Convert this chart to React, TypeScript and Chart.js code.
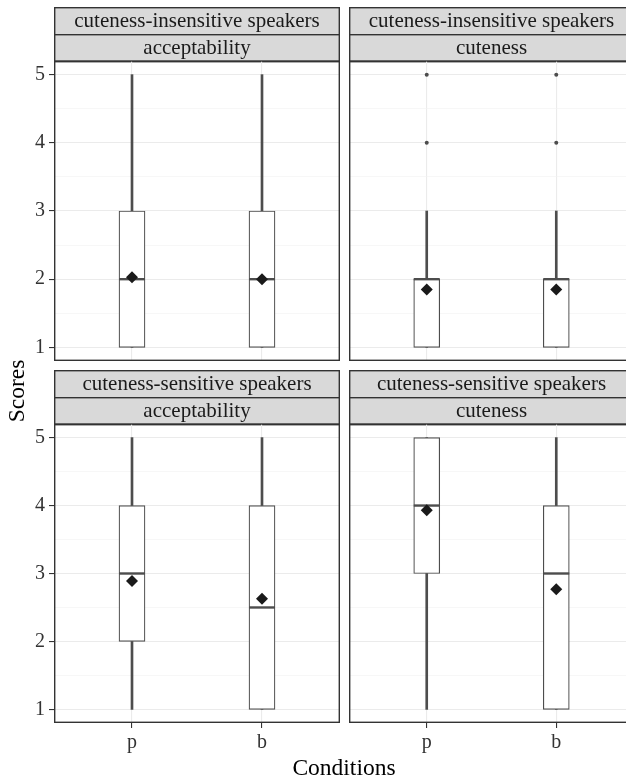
import React, { useEffect, useRef } from "react";
import { Chart, registerables } from "chart.js";

Chart.register(...registerables);

// ---- data ----
const conditions = ["p", "b"];
const conditionX = [1, 2];
const speakerGroups = ["cuteness-insensitive speakers", "cuteness-sensitive speakers"];
const measures = ["acceptability", "cuteness"];
const yTickValues = [1, 1.5, 2, 2.5, 3, 3.5, 4, 4.5, 5];

// panels: [insensitive/acceptability, insensitive/cuteness, sensitive/acceptability, sensitive/cuteness]
// each inner array is [p, b]
const whiskerMin = [[1, 1], [1, 1], [1, 1], [1, 1]];
const lowerQuartile = [[1, 1], [1, 1], [2, 1], [3, 1]];
const medians = [[2, 2], [2, 2], [3, 2.5], [4, 3]];
const upperQuartile = [[3, 3], [2, 2], [4, 4], [5, 4]];
const whiskerMax = [[5, 5], [3, 3], [5, 5], [5, 5]];
const means = [[2.03, 2.0], [1.85, 1.85], [2.89, 2.63], [3.93, 2.77]];
const outliers = [[[], []], [[4, 5], [4, 5]], [[], []], [[], []]];

const FONT = "'Liberation Serif', 'Times New Roman', serif";
const DARK = "#333333";
const BOXLINE = "#4D4D4D";

type PanelProps = {
  idx: number;
  left: number;
  top: number;
  width: number;
  height: number;
  showY: boolean;
  showX: boolean;
};

function Panel({ idx, left, top, width, height, showY, showX }: PanelProps) {
  const ref = useRef<HTMLCanvasElement>(null);
  useEffect(() => {
    const canvas = ref.current;
    if (!canvas) return;
    const group = speakerGroups[idx < 2 ? 0 : 1];
    const measure = measures[idx % 2];
    const pts = (arr: number[]) => arr.map((v, i) => ({ x: conditionX[i], y: v }));
    const outlierPts: { x: number; y: number }[] = [];
    outliers[idx].forEach((vals, i) => vals.forEach((v) => outlierPts.push({ x: conditionX[i], y: v })));

    const xAxisHeight = showX ? height - 360 : 0;

    const stripPlugin = {
      id: "strips",
      beforeDraw(chart: any) {
        const { ctx, chartArea } = chart;
        const h = 27;
        const rows = [group, measure];
        ctx.save();
        rows.forEach((txt, i) => {
          const y = chartArea.top - 2 * h + i * h;
          ctx.fillStyle = "#D9D9D9";
          ctx.fillRect(chartArea.left, y, chartArea.right - chartArea.left, h);
          ctx.strokeStyle = DARK;
          ctx.lineWidth = 1.4;
          ctx.strokeRect(chartArea.left + 0.7, y + 0.7, chartArea.right - chartArea.left - 1.4, h);
          ctx.fillStyle = "#1A1A1A";
          ctx.font = `21px ${FONT}`;
          ctx.textAlign = "center";
          ctx.textBaseline = "middle";
          ctx.fillText(txt, (chartArea.left + chartArea.right) / 2, y + h / 2 + 1);
        });
        ctx.restore();
      },
      afterDraw(chart: any) {
        const { ctx, chartArea } = chart;
        ctx.save();
        ctx.strokeStyle = DARK;
        ctx.lineWidth = 1.4;
        ctx.strokeRect(
          chartArea.left + 0.7,
          chartArea.top,
          chartArea.right - chartArea.left - 1.4,
          chartArea.bottom - chartArea.top - 0.7
        );
        ctx.restore();
      },
    };

    const chart = new Chart(canvas, {
      type: "bar",
      data: {
        datasets: [
          {
            type: "line",
            label: "mean",
            data: pts(means[idx]),
            showLine: false,
            pointStyle: "rectRot",
            pointRadius: 6,
            pointBorderWidth: 0,
            pointBackgroundColor: "#1A1A1A",
            pointBorderColor: "#1A1A1A",
            order: 0,
          } as any,
          {
            type: "line",
            label: "median",
            data: pts(medians[idx]),
            showLine: false,
            pointStyle: "line",
            pointRadius: 13,
            pointBorderWidth: 2.4,
            pointBorderColor: BOXLINE,
            order: 1,
          } as any,
          {
            type: "line",
            label: "outliers",
            data: outlierPts,
            showLine: false,
            pointStyle: "circle",
            pointRadius: 2,
            pointBorderWidth: 0,
            pointBackgroundColor: BOXLINE,
            order: 1,
          } as any,
          {
            label: "box",
            data: conditionX.map((x, i) => ({ x, y: [lowerQuartile[idx][i], upperQuartile[idx][i]] })),
            backgroundColor: "#FFFFFF",
            borderColor: BOXLINE,
            borderWidth: 1.2,
            borderSkipped: false,
            barThickness: 26,
            grouped: false,
            order: 2,
          } as any,
          {
            label: "upper whisker",
            data: conditionX.map((x, i) => ({ x, y: [upperQuartile[idx][i], whiskerMax[idx][i]] })),
            backgroundColor: BOXLINE,
            borderWidth: 0,
            barThickness: 2,
            grouped: false,
            order: 3,
          } as any,
          {
            label: "lower whisker",
            data: conditionX.map((x, i) => ({ x, y: [whiskerMin[idx][i], lowerQuartile[idx][i]] })),
            backgroundColor: BOXLINE,
            borderWidth: 0,
            barThickness: 2,
            grouped: false,
            order: 3,
          } as any,
        ],
      },
      options: {
        responsive: false,
        animation: false,
        events: [],
        layout: { autoPadding: false, padding: { top: 61, left: 0, right: 0, bottom: 0 } },
        plugins: { legend: { display: false }, tooltip: { enabled: false }, title: { display: false } },
        scales: {
          x: {
            type: "linear",
            min: 0.4,
            max: 2.6,
            offset: false,
            afterBuildTicks: (scale: any) => {
              scale.ticks = conditionX.map((v) => ({ value: v }));
            },
            afterFit: (scale: any) => {
              scale.height = xAxisHeight;
              scale.paddingLeft = 0;
              scale.paddingRight = 0;
            },
            border: { display: false },
            grid: {
              offset: false,
              color: "#EBEBEB",
              lineWidth: 1.1,
              drawTicks: showX,
              tickLength: 5,
              tickColor: DARK,
              tickWidth: 1.1,
            },
            ticks: {
              display: showX,
              autoSkip: false,
              maxRotation: 0,
              padding: 3,
              color: "#333333",
              font: { family: FONT, size: 20 },
              callback: (v: any) => conditions[conditionX.indexOf(Number(v))] ?? "",
            },
          },
          y: {
            type: "linear",
            min: 0.8,
            max: 5.2,
            afterBuildTicks: (scale: any) => {
              scale.ticks = yTickValues.map((v) => ({ value: v }));
            },
            afterFit: (scale: any) => {
              scale.width = showY ? 54 : 0;
              scale.paddingTop = 0;
              scale.paddingBottom = 0;
            },
            border: { display: false },
            grid: {
              color: (c: any) => (Number.isInteger(c.tick?.value) ? "#EBEBEB" : "#F2F2F2"),
              lineWidth: (c: any) => (Number.isInteger(c.tick?.value) ? 1.1 : 0.6),
              drawTicks: showY,
              tickLength: 5,
              tickColor: (c: any) => (Number.isInteger(c.tick?.value) ? DARK : "rgba(0,0,0,0)"),
              tickWidth: 1.1,
            },
            ticks: {
              display: showY,
              autoSkip: false,
              padding: 4,
              color: "#333333",
              font: { family: FONT, size: 20 },
              callback: (v: any) => (Number.isInteger(Number(v)) ? String(v) : ""),
            },
          },
        },
      } as any,
      plugins: [stripPlugin],
    });
    return () => chart.destroy();
  }, [idx, width, height, showX, showY]);
  return (
    <canvas
      ref={ref}
      width={width}
      height={height}
      style={{ position: "absolute", left, top, width, height, display: "block" }}
    />
  );
}

export default function App() {
  return (
    <div
      style={{
        position: "fixed",
        left: 0,
        top: 0,
        width: 626,
        height: 779,
        overflow: "hidden",
        background: "#FFFFFF",
        fontFamily: FONT,
      }}
    >
      <Panel idx={0} left={0} top={0} width={340} height={361} showY={true} showX={false} />
      <Panel idx={1} left={349} top={0} width={285} height={361} showY={false} showX={false} />
      <Panel idx={2} left={0} top={363} width={340} height={416} showY={true} showX={true} />
      <Panel idx={3} left={349} top={363} width={285} height={416} showY={false} showX={true} />
      <div
        style={{
          position: "absolute",
          left: 15.5 - 100,
          top: 391 - 13,
          width: 200,
          height: 26,
          lineHeight: "26px",
          fontSize: 23.5,
          textAlign: "center",
          color: "#000000",
          transform: "rotate(-90deg)",
          whiteSpace: "nowrap",
        }}
      >
        Scores
      </div>
      <div
        style={{
          position: "absolute",
          left: 344 - 150,
          top: 754,
          width: 300,
          height: 26,
          lineHeight: "26px",
          fontSize: 23.5,
          textAlign: "center",
          color: "#000000",
          whiteSpace: "nowrap",
        }}
      >
        Conditions
      </div>
    </div>
  );
}
